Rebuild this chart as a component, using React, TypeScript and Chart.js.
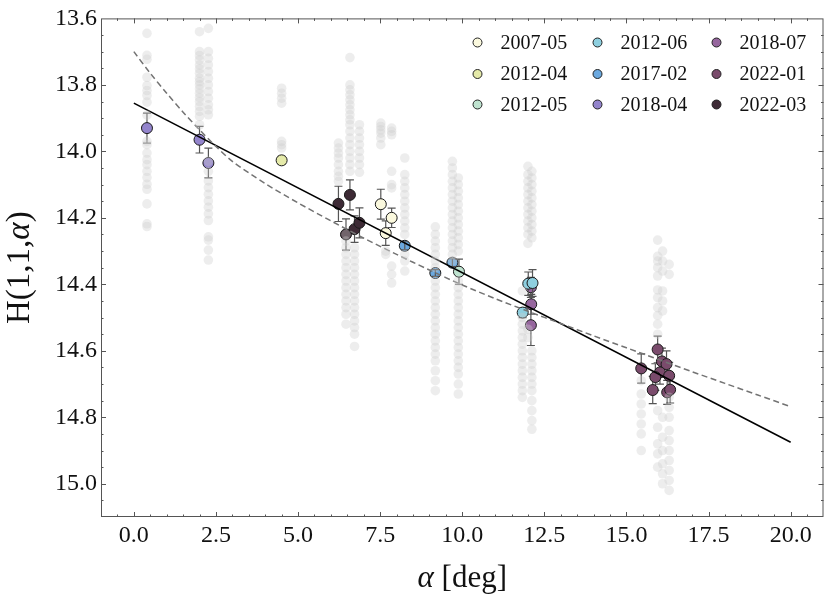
import React, { useEffect, useRef } from "react";
import { Chart, registerables } from "chart.js";
Chart.register(...registerables);

const FONT = "'Liberation Serif', 'DejaVu Serif', serif";

const xTicks = [0, 2.5, 5, 7.5, 10, 12.5, 15, 17.5, 20];
const yTicks = [13.6, 13.8, 14.0, 14.2, 14.4, 14.6, 14.8, 15.0];

// background (all individual measurements)
const bgAlpha = [0.4, 2.0, 2.27, 4.5, 6.23, 6.46, 6.58, 6.72, 6.87, 7.52, 7.67, 7.85, 8.25, 9.18, 9.7, 9.88, 11.83, 12.0, 12.12, 15.45, 15.95, 16.1, 16.3];
const bgH = [
  [13.645, 13.711, 13.723, 13.777, 13.802, 13.817, 13.832, 13.852, 13.891, 13.97, 13.98, 14.005, 14.025, 14.04, 14.06, 14.079, 14.099, 14.114, 14.158, 14.218, 14.226],
  [13.64, 13.7, 13.712, 13.725, 13.74, 13.752, 13.765, 13.78, 13.79, 13.8, 13.812, 13.825, 13.838, 13.85, 13.865, 13.88, 13.895, 13.92],
  [13.63, 13.7, 13.72, 13.74, 13.76, 13.78, 13.8, 13.82, 13.84, 13.86, 13.875, 13.89, 14.03, 14.06, 14.089, 14.109, 14.129, 14.149, 14.168, 14.188, 14.208, 14.257, 14.267, 14.297, 14.327],
  [13.81, 13.825, 13.84, 13.855, 13.97, 13.98, 13.99],
  [13.975, 13.99, 14.005, 14.02, 14.04, 14.06, 14.075, 14.09],
  [14.25, 14.27, 14.29, 14.31, 14.33, 14.35, 14.37, 14.39, 14.41, 14.43, 14.45, 14.47, 14.49, 14.52],
  [13.718, 13.8, 13.815, 13.83, 13.845, 13.86, 13.875, 13.89, 13.905, 13.92, 13.94, 13.96, 13.98, 14.0, 14.02, 14.04, 14.06],
  [14.29, 14.31, 14.33, 14.35, 14.37, 14.39, 14.41, 14.43, 14.45, 14.47, 14.49, 14.51, 14.53, 14.55, 14.587],
  [13.92, 13.94, 13.96, 13.98, 14.0, 14.02, 14.04, 14.063],
  [13.915, 13.925, 13.935, 13.945, 13.96, 13.98],
  [14.3, 14.31],
  [13.93, 13.94, 13.95, 14.06, 14.1, 14.11, 14.345, 14.37, 14.396],
  [14.02, 14.07, 14.09, 14.11, 14.13, 14.15, 14.17, 14.19, 14.21, 14.23, 14.25, 14.31, 14.33, 14.36],
  [14.227, 14.25, 14.27, 14.29, 14.31, 14.33, 14.35, 14.39, 14.41, 14.43, 14.45, 14.47, 14.49, 14.51, 14.53, 14.55, 14.57, 14.59, 14.61, 14.63, 14.66, 14.69, 14.72],
  [14.03, 14.05, 14.07, 14.09, 14.11, 14.13, 14.15, 14.17, 14.19, 14.21, 14.23, 14.25, 14.27, 14.29, 14.31, 14.33],
  [14.08, 14.1, 14.12, 14.14, 14.16, 14.18, 14.2, 14.22, 14.24, 14.26, 14.28, 14.3, 14.39, 14.41, 14.43, 14.45, 14.47, 14.49, 14.51, 14.53, 14.55, 14.57, 14.59, 14.61, 14.63, 14.65, 14.67, 14.7, 14.73],
  [14.42, 14.5, 14.52, 14.54, 14.56, 14.58, 14.6, 14.62, 14.64, 14.66, 14.68, 14.7, 14.72, 14.74],
  [14.045, 14.07, 14.09, 14.11, 14.13, 14.15, 14.17, 14.19, 14.21, 14.23, 14.25, 14.277, 14.535, 14.56],
  [14.06, 14.08, 14.1, 14.12, 14.14, 14.16, 14.18, 14.2, 14.22, 14.24, 14.26, 14.6, 14.62, 14.64, 14.66, 14.68, 14.7, 14.72, 14.75, 14.78, 14.81, 14.836],
  [14.69, 14.73, 14.76, 14.79, 14.82, 14.85, 14.9],
  [14.267, 14.316, 14.33, 14.35, 14.375, 14.417, 14.44, 14.47, 14.494, 14.52, 14.55, 14.78, 14.83, 14.88, 14.91, 14.95],
  [14.3, 14.33, 14.36, 14.42, 14.45, 14.48, 14.8, 14.86, 14.9, 14.94, 14.97, 15.0],
  [14.34, 14.37, 14.74, 14.77, 14.8, 14.84, 14.87, 14.9, 14.93, 14.96, 14.99, 15.02],
];

// per-epoch averaged points
const epochs = ["2007-05", "2012-04", "2012-05", "2012-06", "2017-02", "2018-04", "2018-07", "2022-01", "2022-03"];
const epochColors = ["#fbf9de", "#e5eaa9", "#bfe3d0", "#8ecfdf", "#6ba9e0", "#9384cc", "#96669e", "#7a4b6c", "#3d2a35"];
const epochAlpha = [
  [7.52, 7.85, 7.67],
  [4.5],
  [9.9],
  [12.01, 12.14, 11.84],
  [8.25, 9.18, 9.7],
  [0.4, 2.0, 2.27],
  [12.09, 12.1, 12.09],
  [15.45, 15.95, 16.08, 16.22, 16.02, 15.88, 16.3, 15.8, 16.24, 16.33],
  [6.23, 6.58, 6.46, 6.72, 6.87],
];
const epochH = [
  [14.159, 14.2, 14.246],
  [14.027],
  [14.362],
  [14.398, 14.396, 14.485],
  [14.284, 14.366, 14.335],
  [13.93, 13.965, 14.035],
  [14.409, 14.46, 14.523],
  [14.653, 14.596, 14.632, 14.64, 14.665, 14.679, 14.675, 14.718, 14.725, 14.717],
  [14.158, 14.131, 14.25, 14.234, 14.215],
];
const epochErr = [
  [0.045, 0.029, 0.037],
  [0.012],
  [0.038],
  [0.035, 0.04, 0.015],
  [0.012, 0.01, 0.012],
  [0.045, 0.04, 0.045],
  [0.03, 0.03, 0.061],
  [0.044, 0.04, 0.04, 0.04, 0.035, 0.04, 0.04, 0.041, 0.036, 0.04],
  [0.053, 0.045, 0.047, 0.04, 0.045],
];

// linear fit and curved model
const linAlpha = [0, 20];
const linH = [13.855, 14.875];
const curveAlpha = [0, 0.5, 1, 1.5, 2, 2.5, 3, 4, 5, 6, 7, 8, 9, 10, 11, 12, 13, 14, 15, 16, 17, 18, 19, 20];
const curveH = [13.7, 13.765, 13.825, 13.882, 13.935, 13.985, 14.03, 14.097, 14.155, 14.209, 14.261, 14.31, 14.357, 14.402, 14.443, 14.481, 14.518, 14.555, 14.591, 14.627, 14.663, 14.698, 14.733, 14.768];

function drawErr(chart: any, idx: number, top: boolean) {
  const ds: any = chart.data.datasets[idx];
  if (!ds || !ds.errs) return;
  if (!!ds.errTop !== top) return;
  const ctx = chart.ctx;
  const xs = chart.scales.x;
  const ys = chart.scales.y;
  ctx.save();
  ctx.strokeStyle = "#555555";
  ctx.lineWidth = 1.2;
  ds.data.forEach((p: any, i: number) => {
    const px = xs.getPixelForValue(p.x);
    const y1 = ys.getPixelForValue(p.y - ds.errs[i]);
    const y2 = ys.getPixelForValue(p.y + ds.errs[i]);
    ctx.beginPath();
    ctx.moveTo(px, y1);
    ctx.lineTo(px, y2);
    ctx.moveTo(px - 4, y1);
    ctx.lineTo(px + 4, y1);
    ctx.moveTo(px - 4, y2);
    ctx.lineTo(px + 4, y2);
    ctx.stroke();
  });
  ctx.restore();
}

const errPlugin = {
  id: "errbars",
  beforeDatasetDraw(chart: any, args: any) {
    drawErr(chart, args.index, false);
  },
  afterDatasetDraw(chart: any, args: any) {
    drawErr(chart, args.index, true);
  },
};

const framePlugin = {
  id: "frame",
  afterDatasetsDraw(chart: any) {
    const ctx = chart.ctx;
    const a = chart.chartArea;
    const xs = chart.scales.x;
    const ys = chart.scales.y;
    ctx.save();
    ctx.strokeStyle = "#555555";
    ctx.lineWidth = 1;
    ctx.strokeRect(a.left + 0.5, a.top + 0.5, a.right - a.left - 1, a.bottom - a.top - 1);
    ctx.beginPath();
    for (let k = -2; k <= 42; k++) {
      const v = k * 0.5;
      const major = k % 5 === 0;
      const len = major ? 5 : 2.5;
      const px = Math.round(xs.getPixelForValue(v)) + 0.5;
      if (px <= a.left + 1 || px >= a.right - 1) continue;
      ctx.moveTo(px, a.bottom);
      ctx.lineTo(px, a.bottom - len);
      ctx.moveTo(px, a.top);
      ctx.lineTo(px, a.top + len);
    }
    for (let j = 0; j <= 30; j++) {
      const v = 13.6 + j * 0.05;
      const major = j % 4 === 0;
      const len = major ? 5 : 2.5;
      const py = Math.round(ys.getPixelForValue(v)) + 0.5;
      if (py <= a.top + 1 || py >= a.bottom - 1) continue;
      ctx.moveTo(a.left, py);
      ctx.lineTo(a.left + len, py);
      ctx.moveTo(a.right, py);
      ctx.lineTo(a.right - len, py);
    }
    ctx.stroke();
    ctx.restore();
  },
};

const legendPlugin = {
  id: "customLegend",
  afterDraw(chart: any) {
    const ctx = chart.ctx;
    const colX = [477.5, 597.5, 716.5];
    const rowY = [42.5, 74, 104.5];
    ctx.save();
    ctx.font = `20px ${FONT}`;
    ctx.textBaseline = "middle";
    ctx.textAlign = "left";
    epochs.forEach((lab, i) => {
      const cx = colX[Math.floor(i / 3)];
      const cy = rowY[i % 3];
      ctx.beginPath();
      ctx.arc(cx, cy, 4.5, 0, Math.PI * 2);
      ctx.fillStyle = epochColors[i];
      ctx.fill();
      ctx.lineWidth = 1;
      ctx.strokeStyle = "#222222";
      ctx.stroke();
      ctx.fillStyle = "#111111";
      ctx.fillText(lab, cx + 23, cy + 1);
    });
    ctx.restore();
  },
};

function drawParts(ctx: any, parts: [string, boolean][], size: number) {
  let total = 0;
  const widths = parts.map(([t, it]) => {
    ctx.font = `${it ? "italic " : ""}${size}px ${FONT}`;
    const w = ctx.measureText(t).width;
    total += w;
    return w;
  });
  let x = -total / 2;
  parts.forEach(([t, it], i) => {
    ctx.font = `${it ? "italic " : ""}${size}px ${FONT}`;
    ctx.fillText(t, x, 0);
    x += widths[i];
  });
}

const titlePlugin = {
  id: "axisTitles",
  afterDraw(chart: any) {
    const ctx = chart.ctx;
    const a = chart.chartArea;
    ctx.save();
    ctx.fillStyle = "#111111";
    ctx.textAlign = "left";
    ctx.textBaseline = "alphabetic";
    ctx.translate((a.left + a.right) / 2, 587);
    drawParts(ctx, [["α", true], [" [deg]", false]], 31);
    ctx.restore();
    ctx.save();
    ctx.fillStyle = "#111111";
    ctx.textAlign = "left";
    ctx.textBaseline = "alphabetic";
    ctx.translate(29, (a.top + a.bottom) / 2);
    ctx.rotate(-Math.PI / 2);
    drawParts(ctx, [["H(1,1,", false], ["α", true], [")", false]], 33);
    ctx.restore();
  },
};

export default function App() {
  const ref = useRef<HTMLCanvasElement | null>(null);
  useEffect(() => {
    if (!ref.current) return;
    const bgData: { x: number; y: number }[] = [];
    bgAlpha.forEach((a, i) => bgH[i].forEach((h) => bgData.push({ x: a, y: h })));
    const datasets: any[] = [
      {
        label: "all",
        data: bgData,
        pointRadius: 4.8,
        pointBorderWidth: 0,
        pointBackgroundColor: "rgba(205,205,205,0.36)",
        pointBorderColor: "rgba(0,0,0,0)",
        showLine: false,
      },
      {
        label: "curve",
        data: curveAlpha.map((a, i) => ({ x: a, y: curveH[i] })),
        showLine: true,
        pointRadius: 0,
        borderColor: "#737373",
        borderWidth: 1.5,
        borderDash: [6, 3.5],
        tension: 0.3,
        fill: false,
      },
      {
        label: "linear",
        data: linAlpha.map((a, i) => ({ x: a, y: linH[i] })),
        showLine: true,
        pointRadius: 0,
        borderColor: "#000000",
        borderWidth: 1.6,
        fill: false,
      },
    ];
    epochs.forEach((lab, i) => {
      datasets.push({
        label: lab,
        data: epochAlpha[i].map((a, j) => ({ x: a, y: epochH[i][j] })),
        errs: epochErr[i],
        errTop: lab === "2017-02",
        showLine: false,
        pointRadius: 5.5,
        pointBorderWidth: 1,
        pointBorderColor: "#1a1a1a",
        pointBackgroundColor: epochColors[i],
      });
    });
    const chart = new Chart(ref.current, {
      type: "scatter",
      data: { datasets },
      plugins: [errPlugin, framePlugin, legendPlugin, titlePlugin],
      options: {
        animation: false,
        responsive: true,
        maintainAspectRatio: false,
        layout: { padding: { top: 12, right: 3, left: 0, bottom: 0 } },
        plugins: { legend: { display: false }, tooltip: { enabled: false } },
        scales: {
          x: {
            type: "linear",
            min: -1,
            max: 21,
            grid: { display: false, drawTicks: false },
            border: { display: false },
            afterBuildTicks: (s: any) => {
              s.ticks = xTicks.map((v) => ({ value: v }));
            },
            afterFit: (s: any) => {
              s.height = 82;
            },
            ticks: {
              autoSkip: false,
              maxRotation: 0,
              padding: 4,
              color: "#111111",
              font: { family: FONT, size: 24 },
              callback: (v: any) => Number(v).toFixed(1),
            },
          },
          y: {
            type: "linear",
            reverse: true,
            min: 13.6,
            max: 15.1,
            grid: { display: false, drawTicks: false },
            border: { display: false },
            afterBuildTicks: (s: any) => {
              s.ticks = yTicks.map((v) => ({ value: v }));
            },
            afterFit: (s: any) => {
              s.width = 101;
            },
            ticks: {
              autoSkip: false,
              padding: 4,
              color: "#111111",
              font: { family: FONT, size: 24 },
              callback: (v: any) => Number(v).toFixed(1),
            },
          },
        },
      } as any,
    });
    return () => chart.destroy();
  }, []);
  return (
    <div style={{ position: "fixed", left: 0, top: 0, width: 830, height: 599, background: "#ffffff" }}>
      <canvas ref={ref} />
    </div>
  );
}
